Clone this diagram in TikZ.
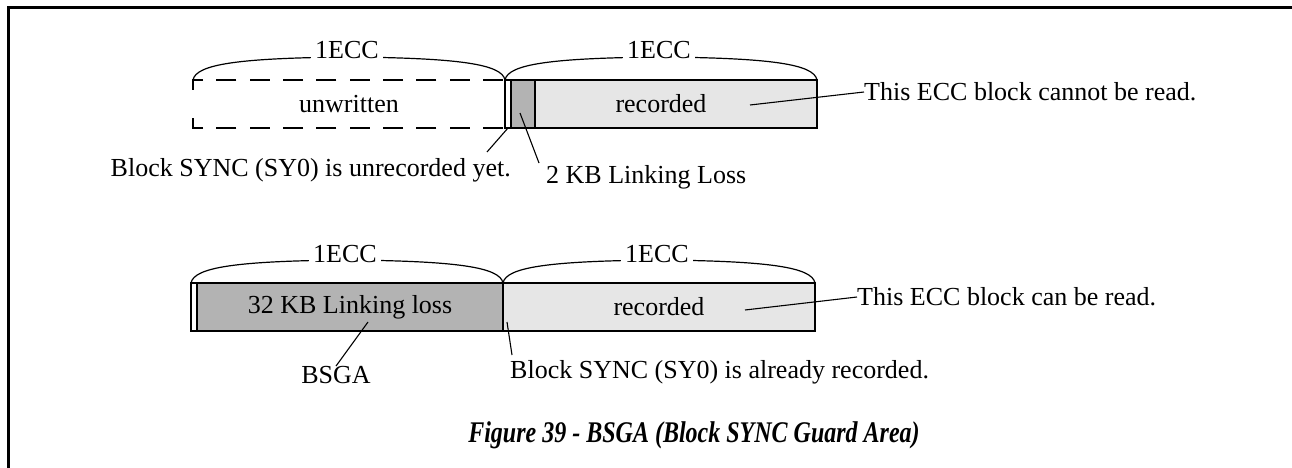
\documentclass[tikz,border=0pt]{standalone}
\usepackage{fontspec}
\setmainfont{Liberation Serif}
\usetikzlibrary{positioning}
\definecolor{grigio}{HTML}{B3B3B3}
\definecolor{chiaro}{HTML}{E6E6E6}

\begin{document}
\begin{tikzpicture}[x=1pt, y=-1pt,
		bordo/.style={line width=2.5pt, black},
		blocco/.style={draw=black, line width=2.5pt, inner sep=0pt, minimum width=312pt, minimum height=48pt, font=\fontsize{26}{30}\selectfont},
		graffa/.style={line width=1.2pt, black},
		guida/.style={line width=1.1pt, black},
		testo/.style={font=\fontsize{26}{30}\selectfont, inner sep=0pt},
		ecc/.style={testo, fill=white, inner xsep=4pt, inner ysep=1.5pt},
		cornice/.style={line width=3pt, black},
		]
		
		\def\Xa{193}   % inizio primo blocco ECC
		\def\Xb{505}   % confine tra i due blocchi
		\def\Xc{817}   % fine secondo blocco
		\def\Yt{80}    % lato superiore dei blocchi
		\def\Yb{128}   % lato inferiore dei blocchi
		\def\Yg{57}    % colmo delle graffe
		
		% cornice (angolo in alto a sinistra)
		\useasboundingbox (0,0) rectangle (1292,468);
		\draw[cornice] (8,468) -- (8,8) -- (1292,8);
		
		%%=== RIGA 1 -- blocco precedente non ancora scritto ===
		\begin{scope}
			% blocco non scritto (tratteggiato, aperto a destra)
			\draw[bordo, dash pattern=on 20pt off 13.33pt, dash phase=31.33pt] (\Xb,\Yt) -- (\Xa,\Yt) -- (\Xa,\Yt+20);
			\draw[bordo, dash pattern=on 20pt off 13.33pt, dash phase=31.33pt] (\Xb,\Yb) -- (\Xa,\Yb) -- (\Xa,\Yb-20);
			\node[testo] (nonscritto) at ({(\Xa+\Xb)/2},104) {unwritten};
			% blocco registrato
			\node[blocco, fill=chiaro] (regA) at ({(\Xb+\Xc)/2},104) {recorded};
			\filldraw[bordo, fill=white] (\Xb,\Yt) rectangle (\Xb+6,\Yb);      % SY0 non registrato
			\filldraw[bordo, fill=grigio] (\Xb+6,\Yt) rectangle (\Xb+30,\Yb);  % 2 KB
			% graffe 1ECC
			\foreach \xa/\xb/\nome in {\Xa/\Xb/sx, \Xb/\Xc/dx} {
				\draw[graffa] (\xa,\Yt) .. controls (\xa+3,\Yg+7) and (\xa+47,\Yg+1) .. ({(\xa+\xb)/2},\Yg)
				.. controls (\xb-47,\Yg+1) and (\xb-3,\Yg+7) .. (\xb,\Yt);
				\node[ecc, anchor=base] (eccA\nome) at ({(\xa+\xb)/2-2},\Yg+2) {1ECC};
			}
			% richiami
			\node[testo, anchor=west] (illeggibile) at (864,92) {This ECC block cannot be read.};
			\coordinate (pRegA) at (750,105);
			\draw[guida] (pRegA) -- (illeggibile.west);
			\node[testo, anchor=east] (syncNo) at (511,170) {Block SYNC (SY0) is unrecorded yet.};
			\coordinate (pSyncA) at (\Xb+3,\Yb);
			\coordinate (pSyncNo) at (487,152);
			\draw[guida] (pSyncA) -- (pSyncNo);
			\node[testo, anchor=west] (perdita2) at (546,177) {2 KB Linking Loss};
			\coordinate (pPerdita2) at (520,113);
			\coordinate (pLink2) at (539,163);
			\draw[guida] (pPerdita2) -- (pLink2);
		\end{scope}
		
		%%=== RIGA 2 -- blocco con BSGA ===
		\begin{scope}[shift={(-2,203)}]
			% blocco di collegamento da 32 KB
			\node[blocco, fill=grigio, minimum width=306pt] (perdita32) at ({(\Xa+\Xb+6)/2},104) {32 KB Linking loss};
			\filldraw[bordo, fill=white] (\Xa,\Yt) rectangle (\Xa+6,\Yb);      % BSGA
			% blocco registrato
			\node[blocco, fill=chiaro] (regB) at ({(\Xb+\Xc)/2},104) {recorded};
			% graffe 1ECC
			\foreach \xa/\xb/\nome in {\Xa/\Xb/sx, \Xb/\Xc/dx} {
				\draw[graffa] (\xa,\Yt) .. controls (\xa+3,\Yg+7) and (\xa+47,\Yg+1) .. ({(\xa+\xb)/2},\Yg)
				.. controls (\xb-47,\Yg+1) and (\xb-3,\Yg+7) .. (\xb,\Yt);
				\node[ecc, anchor=base] (eccB\nome) at ({(\xa+\xb)/2-2},\Yg+2) {1ECC};
			}
			% richiami
			\node[testo, anchor=west] (leggibile) at (859,94) {This ECC block can be read.};
			\coordinate (pRegB) at (747,107);
			\draw[guida] (pRegB) -- (leggibile.west);
			\node[testo] (bsga) at (338,172) {BSGA};
			\coordinate (pBsga) at (370,119);
			\draw[guida] (pBsga) -- (bsga.north);
			\node[testo, anchor=west] (syncSi) at (512,169) {Block SYNC (SY0) is already recorded.};
			\coordinate (pSyncB) at (\Xb+4,119);
			\coordinate (pSyncSi) at (514,152);
			\draw[guida] (pSyncB) -- (pSyncSi);
		\end{scope}
		
		% didascalia (centrata sulla pagina intera)
		\node[font=\bfseries\itshape\fontsize{30}{34}\selectfont, inner sep=0pt] (didascalia) at (694,435)
		{\scalebox{0.8}[1]{Figure 39 - BSGA (Block SYNC Guard Area)}};
		
\end{tikzpicture}
\end{document}
